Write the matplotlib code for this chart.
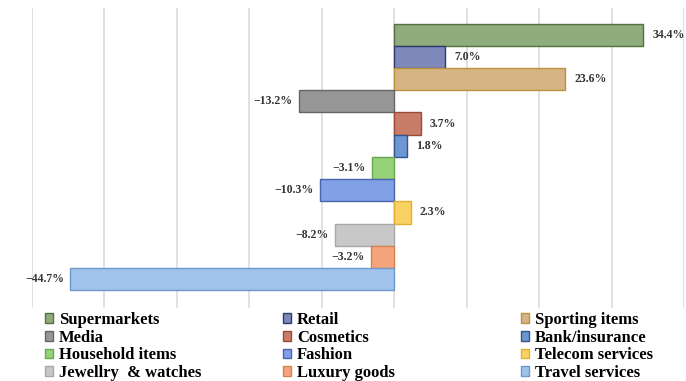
import matplotlib
matplotlib.use("Agg")
import matplotlib.pyplot as plt
from matplotlib.patches import Patch

categories = ["Supermarkets", "Retail", "Sporting items", "Media", "Cosmetics",
              "Bank/insurance", "Household items", "Fashion", "Telecom services",
              "Jewellry  & watches", "Luxury goods", "Travel services"]
values = [34.4, 7.0, 23.6, -13.2, 3.7, 1.8, -3.1, -10.3, 2.3, -8.2, -3.2, -44.7]
fills = ["#8fac7c", "#7f88bb", "#d6b483", "#969696", "#c87d69", "#6e96d2",
         "#96d278", "#82a0e6", "#fad264", "#c8c8c8", "#f5a57d", "#a0c3eb"]
edges = ["#56703f", "#2f3a6e", "#b89440", "#666666", "#9a4a35", "#2f5592",
         "#6aa850", "#4a64b0", "#e0b030", "#a8a8a8", "#d88050", "#7098cc"]

plt.rcParams['font.family'] = ['Liberation Serif', 'DejaVu Serif']

fig = plt.figure(figsize=(6.86, 3.81), dpi=100)
ax = fig.add_axes([32/686, 1-308/381, (684-32)/686, (308-8)/381])

ypos = list(range(len(values)))
ax.barh(ypos, values, height=1.0, color=fills, edgecolor=edges, linewidth=1.0, zorder=3)
ax.set_xlim(-50, 40)
ax.set_ylim(len(values) - 0.5 + 0.8, -0.5 - 0.7)
ax.set_xticks(range(-50, 41, 10))
ax.set_xticklabels([])
ax.tick_params(length=0)
ax.set_yticks([])
ax.grid(axis='x', color='#dcdcdc', linewidth=1.2, zorder=0)
for s in ax.spines.values():
    s.set_visible(False)

for y, v in zip(ypos, values):
    txt = f"{v:.1f}%".replace("-", "\u2212")
    if v >= 0:
        ax.annotate(txt, (v, y), xytext=(6.5, 0), textcoords='offset points',
                    ha='left', va='center', fontsize=8.5, fontweight='bold', color='#333333')
    else:
        ax.annotate(txt, (v, y), xytext=(-4.5, 0), textcoords='offset points',
                    ha='right', va='center', fontsize=8.5, fontweight='bold', color='#333333')

handles = [Patch(facecolor=f, edgecolor=e, linewidth=1.0) for f, e in zip(fills, edges)]
col_x = [45/686, 283/686, 521/686]
for c in range(3):
    idx = [c, c + 3, c + 6, c + 9]
    fig.legend([handles[i] for i in idx], [categories[i] for i in idx],
               loc='upper left', bbox_to_anchor=(col_x[c], 1-312/381),
               frameon=False, ncol=1,
               prop={'weight': 'bold', 'size': 12},
               handlelength=0.5, handleheight=0.5, handletextpad=0.35,
               labelspacing=0.1, borderaxespad=0, borderpad=0)

fig.savefig("out.png", dpi=100)
